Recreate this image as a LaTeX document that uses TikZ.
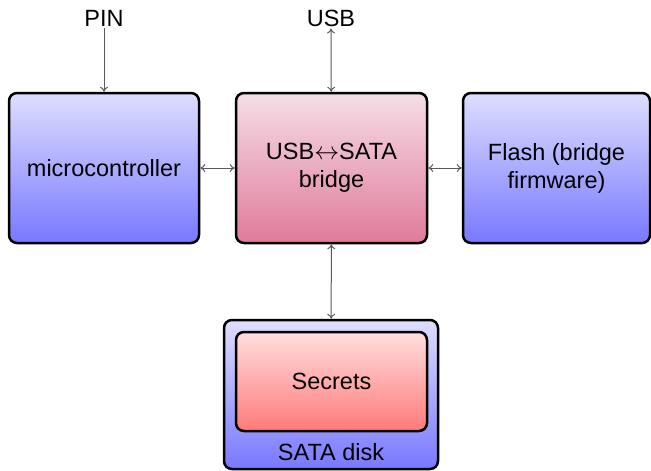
\documentclass[tikz,border=0pt]{standalone}
\usepackage{fontspec}
\setmainfont{Liberation Sans}
\usetikzlibrary{arrows.meta}
\definecolor{bluetop}{RGB}{222,222,255}
\definecolor{bluebot}{RGB}{120,120,255}
\definecolor{pinktop}{RGB}{245,222,230}
\definecolor{pinkbot}{RGB}{224,122,155}
\definecolor{redtop}{RGB}{255,222,222}
\definecolor{redbot}{RGB}{255,122,122}
\definecolor{linkcol}{RGB}{90,90,90}
\begin{document}
\begin{tikzpicture}[x=1pt,y=-1pt,
  every node/.style={font=\fontsize{23.5}{28}\selectfont},
  block/.style={draw=black,line width=2.5pt,rounded corners=8pt,align=center,inner sep=0pt},
  bluebox/.style={block,top color=bluetop,bottom color=bluebot},
  pinkbox/.style={block,top color=pinktop,bottom color=pinkbot},
  redbox/.style={block,top color=redtop,bottom color=redbot},
  link/.style={draw=linkcol,line width=1pt,>={To[length=5pt,width=8pt]}},
  lbl/.style={inner sep=2pt}]
\useasboundingbox (0,0) rectangle (651,471);
\node[bluebox,minimum width=190pt,minimum height=150pt] (micro) at (104,168) {microcontroller};
\node[pinkbox,minimum width=191pt,minimum height=150pt] (bridge) at (331.5,168) {USB$\leftrightarrow$SATA\\bridge};
\node[bluebox,minimum width=187pt,minimum height=150pt] (flash) at (556.5,168) {Flash (bridge\\firmware)};
\node[bluebox,minimum width=214pt,minimum height=149pt] (disk) at (331,394.5) {};
\node[redbox,minimum width=191pt,minimum height=99pt] (secrets) at (331.5,381.5) {Secrets};
\node[lbl] (disklabel) at (331,452) {SATA disk};
\node[lbl] (pin) at (104,18) {PIN};
\node[lbl] (usb) at (331,18) {USB};
\draw[link,->] (pin) -- (micro);
\draw[link,<->] (usb) -- (bridge);
\draw[link,<->] (micro) -- (bridge);
\draw[link,<->] (bridge) -- (flash);
\draw[link,<->] (bridge) -- (disk);
\end{tikzpicture}
\end{document}
